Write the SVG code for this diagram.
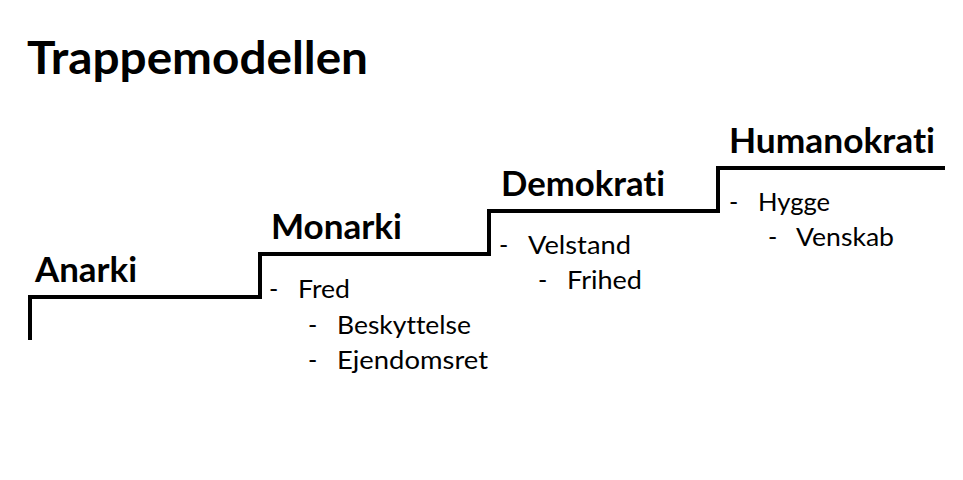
<svg xmlns="http://www.w3.org/2000/svg" width="963" height="480" viewBox="0 0 963 480">
<style>
text{font-variant-ligatures:none;font-feature-settings:"liga" 0,"clig" 0}
.h{font-family:Lato,"Open Sans","Liberation Sans",sans-serif;font-weight:bold;fill:#000}
.b{font-family:Lato,"Open Sans","Liberation Sans",sans-serif;font-size:25px;fill:#000}
.stairs{fill:none;stroke:#000;stroke-width:4;stroke-linejoin:miter}
</style>
<rect width="963" height="480" fill="#fff"/>
<text id="title" class="h" x="27" y="74" font-size="45" textLength="341" lengthAdjust="spacingAndGlyphs">Trappemodellen</text>
<g id="connectors">
<path class="stairs" d="M30,340 V297 H260 V254 H489 V211 H718 V168 H945"/>
</g>
<g id="anarki">
<text class="h" x="35" y="282" font-size="35" textLength="102" lengthAdjust="spacingAndGlyphs">Anarki</text>
</g>
<g id="monarki">
<text class="h" x="271" y="239" font-size="35" textLength="131" lengthAdjust="spacingAndGlyphs">Monarki</text>
<text class="b" x="269" y="298">-</text>
<text class="b" x="298" y="298" textLength="52" lengthAdjust="spacingAndGlyphs">Fred</text>
<text class="b" x="308" y="334">-</text>
<text class="b" x="337" y="334" textLength="134" lengthAdjust="spacingAndGlyphs">Beskyttelse</text>
<text class="b" x="308" y="369">-</text>
<text class="b" x="337" y="369" textLength="151" lengthAdjust="spacingAndGlyphs">Ejendomsret</text>
</g>
<g id="demokrati">
<text class="h" x="501" y="196" font-size="35" textLength="164" lengthAdjust="spacingAndGlyphs">Demokrati</text>
<text class="b" x="499" y="254">-</text>
<text class="b" x="528" y="254" textLength="103" lengthAdjust="spacingAndGlyphs">Velstand</text>
<text class="b" x="538" y="289">-</text>
<text class="b" x="567" y="289" textLength="75" lengthAdjust="spacingAndGlyphs">Frihed</text>
</g>
<g id="humanokrati">
<text class="h" x="729" y="153" font-size="35" textLength="206" lengthAdjust="spacingAndGlyphs">Humanokrati</text>
<text class="b" x="729" y="211">-</text>
<text class="b" x="758" y="211" textLength="72" lengthAdjust="spacingAndGlyphs">Hygge</text>
<text class="b" x="768" y="246">-</text>
<text class="b" x="796" y="246" textLength="98" lengthAdjust="spacingAndGlyphs">Venskab</text>
</g>
</svg>
